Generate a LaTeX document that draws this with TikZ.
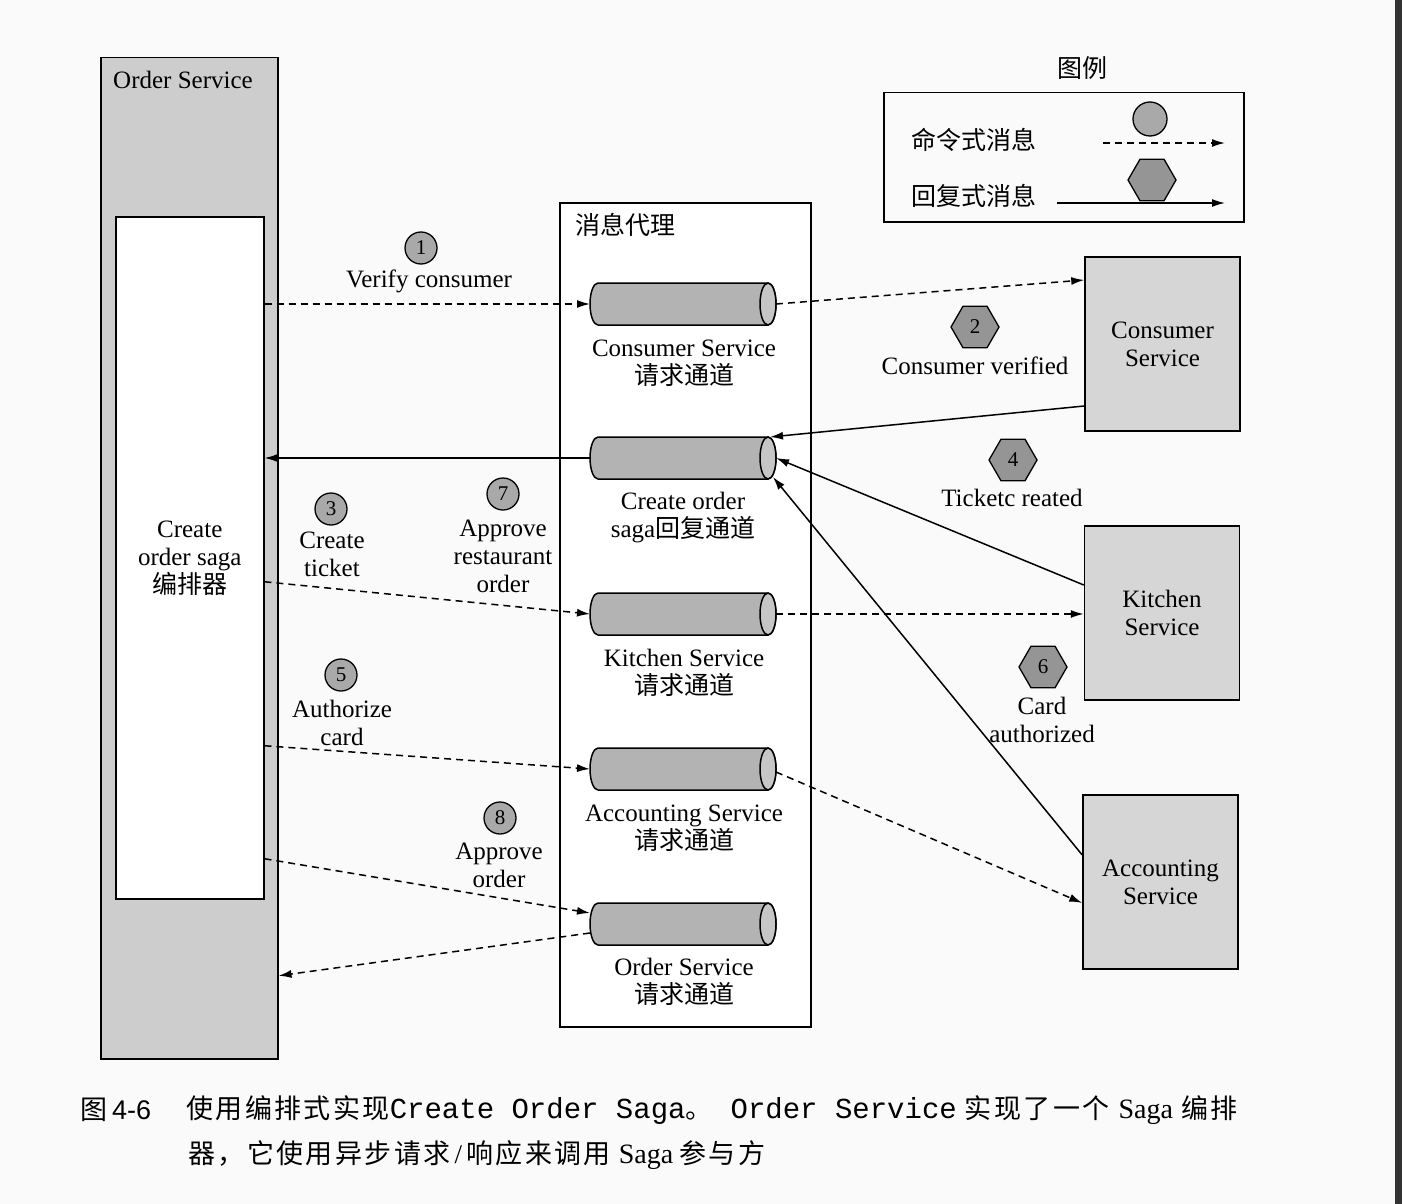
\documentclass[tikz,border=0pt]{standalone}
\usepackage{fontspec}
\setmainfont{Liberation Serif}
\setmonofont{Liberation Mono}
\newfontfamily\cjk{Noto Sans CJK SC}
\newfontfamily\capcjk{Noto Sans CJK SC}[LetterSpace=9]
\newfontfamily\capsans{Liberation Sans}
\usetikzlibrary{shapes.geometric,arrows.meta,calc}
\newcommand{\zh}[1]{{\cjk #1}}
\newcommand{\lblfont}{\fontsize{25}{28}\selectfont}
\definecolor{bgc}{HTML}{FAFAFA}
\definecolor{colgray}{HTML}{CDCDCD}
\definecolor{svcgray}{HTML}{D6D6D6}
\definecolor{cylgray}{HTML}{B3B3B3}
\definecolor{cylend}{HTML}{C6C6C6}
\definecolor{markgray}{HTML}{A9A9A9}
\definecolor{hexgray}{HTML}{959595}
\definecolor{barc}{HTML}{333333}
\tikzset{
  box/.style={draw, line width=1.5pt, inner sep=0pt},
  svcbox/.style={box, fill=svcgray, minimum width=155pt, minimum height=174pt, align=center, font=\lblfont},
  chan/.style={rectangle, minimum width=186pt, minimum height=42pt, inner sep=0pt, outer sep=0pt},
  cylbody/.style={draw, fill=cylgray, line width=1.5pt},
  cylcap/.style={draw, fill=cylend, line width=1.5pt},
  lbl/.style={font=\lblfont, align=center, inner sep=0pt},
  stepc/.style={circle, draw, fill=markgray, minimum size=32pt, inner sep=0pt, line width=1.3pt, font=\fontsize{21}{21}\selectfont},
  steph/.style={regular polygon, regular polygon sides=6, draw, fill=hexgray, minimum size=48pt, inner sep=0pt, line width=1.3pt, font=\fontsize{21}{21}\selectfont},
  cmd/.style={draw, line width=1.5pt, dash pattern=on 7pt off 5pt, -{Latex[length=13pt,width=8pt]}},
  rep/.style={draw, line width=1.5pt, -{Latex[length=13pt,width=8pt]}},
}
\begin{document}
\begin{tikzpicture}[x=1pt, y=-1pt]
\fill[bgc] (0,0) rectangle (1402,1204);
\useasboundingbox (0,0) rectangle (1402,1204);
\fill[barc] (1395,0) rectangle (1402,1204);

% Order Service column
\node[box, fill=colgray, minimum width=177pt, minimum height=1001pt, anchor=north west] (osvc) at (100,57) {};
\node[lbl, anchor=west] (oslbl) at (113,80) {Order Service};
\node[box, fill=white, minimum width=148pt, minimum height=682pt, anchor=north west, align=center, font=\lblfont] (saga) at (115,216) {Create\\order saga\\\zh{编排器}};

% Broker
\node[box, fill=white, minimum width=251pt, minimum height=824pt, anchor=north west] (broker) at (559,202) {};
\node[lbl, anchor=west] (brlbl) at (575,225) {\zh{消息代理}};

% Channels
\node[chan] (c1) at (683,304) {};
\node[chan] (c2) at (683,458) {};
\node[chan] (c3) at (683,614) {};
\node[chan] (c4) at (683,769) {};
\node[chan] (c5) at (683,924) {};
\foreach \c in {c1,c2,c3,c4,c5}{
  \draw[cylbody] ($(\c.north west)+(8,0)$) -- ($(\c.north east)+(-8,0)$)
     arc[start angle=90, end angle=-90, x radius=8pt, y radius=21pt]
     -- ($(\c.south west)+(8,0)$)
     arc[start angle=270, end angle=90, x radius=8pt, y radius=21pt] -- cycle;
  \draw[cylcap] ($(\c.east)+(-8,0)$) ellipse [x radius=8pt, y radius=21pt];
}
\node[lbl] (c1l) at (684,363) {Consumer Service\\\zh{请求通道}};
\node[lbl] (c2l) at (683,518) {Create order\\saga\zh{回复通道}};
\node[lbl] (c3l) at (684,673) {Kitchen Service\\\zh{请求通道}};
\node[lbl] (c4l) at (684,828) {Accounting Service\\\zh{请求通道}};
\node[lbl] (c5l) at (684,982) {Order Service\\\zh{请求通道}};

% Services
\node[svcbox] (csvc) at (1162.5,344) {Consumer\\Service};
\node[svcbox] (ksvc) at (1162,613) {Kitchen\\Service};
\node[svcbox] (asvc) at (1160.5,882) {Accounting\\Service};

% Legend
\node[lbl] (lgtitle) at (1082,68) {\zh{图例}};
\node[box, minimum width=360pt, minimum height=129pt, anchor=north west] (legend) at (883,92) {};
\node[lbl, anchor=west] (lg1) at (911,140) {\zh{命令式消息}};
\node[lbl, anchor=west] (lg2) at (911,196) {\zh{回复式消息}};
\node[stepc, minimum size=34pt] (lgc) at (1150,119) {};
\node[steph] (lgh) at (1152,180) {};
\coordinate (lgd1) at (1103,143);
\coordinate (lgd2) at (1225,143);
\coordinate (lgs1) at (1057,203);
\coordinate (lgs2) at (1225,203);
\draw[cmd] (lgd1) -- (lgd2);
\draw[rep] (lgs1) -- (lgs2);

% Step markers and labels
\node[stepc] (s1) at (421,248) {1};
\node[lbl] (t1) at (429,281) {Verify consumer};
\node[steph] (s2) at (975,327) {2};
\node[lbl] (t2) at (975,366) {Consumer verified};
\node[stepc] (s3) at (331,509) {3};
\node[lbl] (t3) at (332,554) {Create\\ticket};
\node[steph] (s4) at (1013,460) {4};
\node[lbl] (t4) at (1012,498) {Ticketc reated};
\node[stepc] (s5) at (341,675) {5};
\node[lbl] (t5) at (342,723) {Authorize\\card};
\node[steph] (s6) at (1043,667) {6};
\node[lbl] (t6) at (1042,720) {Card\\authorized};
\node[stepc] (s7) at (503,494) {7};
\node[lbl] (t7) at (503,556) {Approve\\restaurant\\order};
\node[stepc] (s8) at (500,818) {8};
\node[lbl] (t8) at (499,865) {Approve\\order};

% Command messages (dashed)
\draw[cmd] (saga.east |- c1.west) -- (c1.west);
\draw[cmd] (c1.east) -- ($(csvc.west)+(0,-64)$);
\draw[cmd] ($(saga.east)+(0,24)$) -- (c3.west);
\draw[cmd] (c3.east) -- (ksvc.west |- c3.east);
\draw[cmd] ($(saga.east)+(0,188)$) -- (c4.west);
\draw[cmd] ($(c4.east)+(0,3)$) -- ($(asvc.west)+(0,21)$);
\draw[cmd] ($(saga.east)+(0,301)$) -- ($(c5.west)+(0,-11)$);
\draw[cmd] ($(c5.west)+(0,9)$) -- ($(osvc.east)+(0,417.5)$);

% Reply messages (solid)
\draw[rep] ($(csvc.west)+(0,62)$) -- ($(c2.east)+(-6,-21)$);
\draw[rep] (c2.west) -- (saga.east |- c2.west);
\draw[rep] ($(ksvc.west)+(0,-28)$) -- (c2.east);
\draw[rep] ($(asvc.west)+(0,-27)$) -- ($(c2.east)+(-3,19)$);

% Caption
\node[anchor=west, inner sep=0pt, font=\fontsize{27}{27}\selectfont] (capnum) at (80,1110) {{\capcjk 图}\hspace{5pt}{\capsans 4-6}};
\node[anchor=west, inner sep=0pt, font=\fontsize{27}{27}\selectfont] (cap1) at (186,1110)
  {{\capcjk 使用编排式实现}{\fontsize{29}{29}\selectfont\ttfamily Create Order Saga}{\capcjk 。}\hspace{18pt}{\fontsize{29}{29}\selectfont\ttfamily Order Service}\hspace{8pt}{\capcjk 实现了一个}\hspace{9pt}{\fontsize{28}{28}\selectfont Saga}\hspace{8pt}{\capcjk 编排}};
\node[anchor=west, inner sep=0pt, font=\fontsize{27}{27}\selectfont] (cap2) at (188,1155)
  {{\capcjk 器，它使用异步请求}\hspace{4pt}/\hspace{4pt}{\capcjk 响应来调用}\hspace{8pt}{\fontsize{28}{28}\selectfont Saga}\hspace{6pt}{\capcjk 参与方}};
\end{tikzpicture}
\end{document}
